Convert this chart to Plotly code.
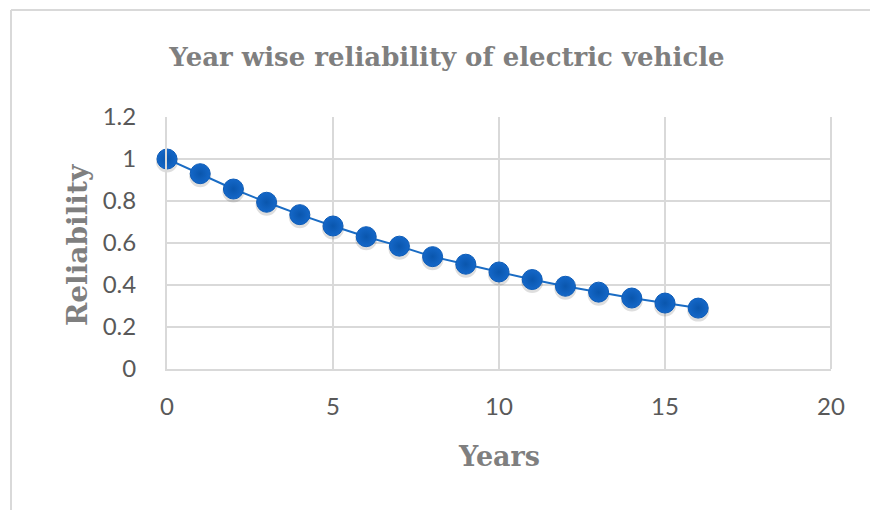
import plotly.graph_objects as go

# Reliability of the electric vehicle by service year
years = list(range(0, 17))
reliability = [1.000, 0.930, 0.857, 0.794, 0.735, 0.681, 0.630, 0.585, 0.535,
               0.499, 0.462, 0.426, 0.394, 0.366, 0.338, 0.314, 0.290]

x_ticks = [0, 5, 10, 15, 20]
y_ticks = [0, 0.2, 0.4, 0.6, 0.8, 1.0, 1.2]
y_tick_text = ["0", "0.2", "0.4", "0.6", "0.8", "1", "1.2"]

title_text = "Year wise reliability of electric vehicle"
x_title = "Years"
y_title = "Reliability"

GRID = "#d9d9d9"
TEXT = "#595959"
TITLE = "#7f7f7f"
BLUE = "#1467c8"
SERIF = "DejaVu Serif"
SANS = "Lato"

fig = go.Figure()
# soft drop shadow under each marker
fig.add_trace(go.Scatter(
    x=years, y=[v - 0.012 for v in reliability], mode="markers",
    marker=dict(size=22, color="rgba(0,0,0,0.13)", line=dict(width=0)),
    hoverinfo="skip", cliponaxis=False, showlegend=False,
))
fig.add_trace(go.Scatter(
    x=years, y=reliability, mode="lines+markers",
    line=dict(color="#1a6cc4", width=2),
    marker=dict(size=20, color=BLUE,
                gradient=dict(type="radial", color="#0a56ad"),
                line=dict(color="#0d5cb8", width=1)),
    cliponaxis=False, showlegend=False,
))

fig.update_layout(
    width=870, height=510,
    margin=dict(l=167, r=39, t=117, b=141),
    paper_bgcolor="white", plot_bgcolor="white",
    title=dict(text=f"<b>{title_text}</b>", x=447 / 870, xanchor="center",
               y=1 - 57 / 510, yanchor="middle", yref="container",
               font=dict(family=SERIF, size=26, color=TITLE)),
    xaxis=dict(range=[0, 20], tickvals=x_ticks, showgrid=True, gridcolor=GRID,
               gridwidth=1.5, zeroline=False, showline=True, linecolor=GRID,
               linewidth=2, mirror=False, ticks="", ticklabelstandoff=15,
               tickfont=dict(family=SANS, size=24, color=TEXT), fixedrange=True),
    yaxis=dict(range=[0, 1.2], tickvals=y_ticks, ticktext=y_tick_text,
               showgrid=True, gridcolor=GRID, gridwidth=1.5, zeroline=False,
               showline=True, linecolor=GRID, linewidth=2, ticks="",
               ticklabelstandoff=24,
               tickfont=dict(family=SANS, size=24, color=TEXT), fixedrange=True),
    annotations=[
        dict(text=f"<b>{x_title}</b>", xref="paper", yref="paper",
             x=0.5, y=-(456 - 369) / 252, xanchor="center", yanchor="middle",
             showarrow=False, font=dict(family=SERIF, size=27, color=TITLE)),
        dict(text=f"<b>{y_title}</b>", xref="paper", yref="paper",
             x=(77 - 167) / 664, y=(369 - 245) / 252, xanchor="center",
             yanchor="middle", textangle=-90, showarrow=False,
             font=dict(family=SERIF, size=28, color=TITLE)),
    ],
    shapes=[
        # chart-area frame (left and top edges)
        dict(type="line", xref="paper", yref="paper",
             x0=(11 - 167) / 664, x1=(11 - 167) / 664,
             y0=(369 - 515) / 252, y1=(369 - 10) / 252,
             line=dict(color=GRID, width=2)),
        dict(type="line", xref="paper", yref="paper",
             x0=(11 - 167) / 664, x1=(875 - 167) / 664,
             y0=(369 - 10) / 252, y1=(369 - 10) / 252,
             line=dict(color=GRID, width=2)),
        # right edge of the plot area
        dict(type="line", xref="paper", yref="paper", x0=1, x1=1, y0=0, y1=1,
             line=dict(color=GRID, width=2), layer="below"),
    ],
)

fig.write_html("out.html", config={"displayModeBar": False})
